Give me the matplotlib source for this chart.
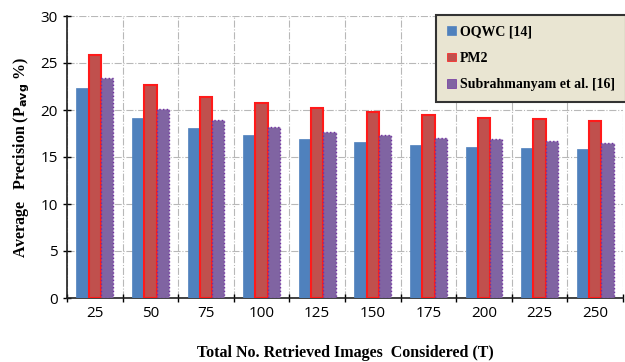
import matplotlib
matplotlib.use("Agg")
import matplotlib.pyplot as plt
import numpy as np

categories = ["25", "50", "75", "100", "125", "150", "175", "200", "225", "250"]
oqwc = [22.3, 19.2, 18.1, 17.3, 16.9, 16.6, 16.3, 16.1, 16.0, 15.9]
pm2 = [25.9, 22.7, 21.4, 20.7, 20.2, 19.8, 19.5, 19.2, 19.0, 18.8]
subra = [23.4, 20.1, 18.9, 18.2, 17.7, 17.3, 17.05, 16.9, 16.7, 16.5]
series_names = ["OQWC [14]", "PM2", "Subrahmanyam et al. [16]"]

fig = plt.figure(figsize=(6.25, 3.62), dpi=100)
ax = fig.add_axes([67/625, 1-298/362, 556/625, 282/362])

x = np.arange(len(categories))
w = 0.22
ax.bar(x - w, oqwc, w, color="#4f81bd", edgecolor="#4f81bd", linewidth=0.5, label=series_names[0], zorder=3)
ax.bar(x, pm2, w, color="#c0504d", edgecolor="#ff1a1a", linewidth=1.5, label=series_names[1], zorder=3)
ax.bar(x + w, subra, w, color="#8064a2", edgecolor="#7030a0", linewidth=1.0, linestyle=":", label=series_names[2], zorder=3)

ax.set_xlim(-0.5, len(categories) - 0.5)
ax.set_ylim(0, 30)
ax.set_yticks(np.arange(0, 31, 5))
ax.set_xticks(x)
ax.set_xticklabels(categories, fontsize=11, family="Open Sans")
ax.set_xticks(np.arange(-0.5, len(categories), 1), minor=True)
ax.tick_params(axis="x", which="major", length=0, pad=6)
ax.tick_params(axis="x", which="minor", length=6, direction="inout", width=1)
ax.tick_params(axis="y", length=6, direction="inout", width=1, labelsize=11)
for lab in ax.get_yticklabels():
    lab.set_family("Open Sans")

ax.grid(True, axis="y", which="major", color="#b8b8b8", linestyle="-.", linewidth=0.8, zorder=0)
ax.grid(True, axis="x", which="minor", color="#b8b8b8", linestyle="-.", linewidth=0.8, zorder=0)

for s in ["top", "right"]:
    ax.spines[s].set_visible(False)
ax.spines["left"].set_color("#202020")
ax.spines["bottom"].set_color("#202020")
ax.spines["left"].set_linewidth(1.2)
ax.spines["bottom"].set_linewidth(1.2)

ax.set_ylabel(r"Average   Precision (P$_{\mathbf{avg}}$ %)", family="Liberation Serif",
              fontweight="bold", fontsize=11.5, labelpad=6)
ax.set_xlabel("Total No. Retrieved Images  Considered (T)", family="Liberation Serif",
              fontweight="bold", fontsize=11.5, labelpad=17)

leg = ax.legend(loc="upper right", bbox_to_anchor=(1.005, 1.005), frameon=True, fancybox=False,
                prop={"family": "Liberation Serif", "weight": "bold", "size": 10},
                handlelength=0.6, handleheight=0.6, handletextpad=0.3, labelspacing=0.95,
                borderpad=0.8, borderaxespad=0, shadow=False)
leg.get_frame().set_facecolor("#e9e5d2")
leg.get_frame().set_edgecolor("#333333")
leg.get_frame().set_linewidth(1.5)
leg.get_frame().set_alpha(1)
for p in leg.get_patches():
    p.set_linestyle("-")
    p.set_linewidth(0.5)

fig.savefig("out.png", dpi=100)
